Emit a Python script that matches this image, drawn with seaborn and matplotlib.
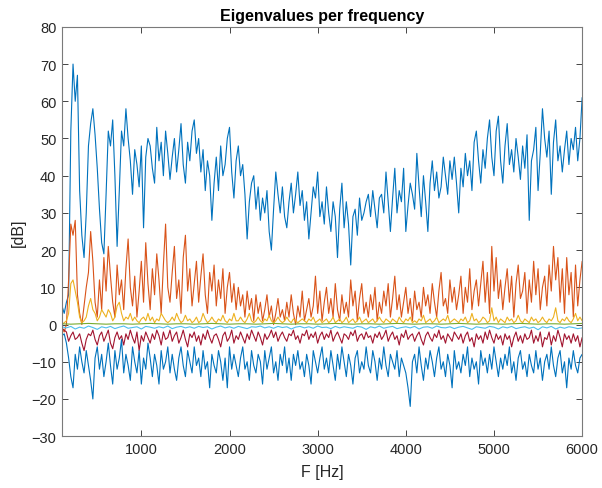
import numpy as np
import pandas as pd
import seaborn as sns
import matplotlib
matplotlib.use("Agg")
import matplotlib.pyplot as plt

# ---------------- data ----------------
freq25 = np.arange(100, 6001, 25)    # 237 bins
freq50 = np.arange(100, 6001, 50)    # 119 bins
freq100 = np.arange(100, 6001, 100)  # 60 bins

eig1 = [
    5, 3, 6, 8, 52, 70, 60, 67, 36, 24,
    18, 30, 48, 54, 58, 51, 42, 31, 22, 19,
    35, 52, 48, 55, 40, 21, 36, 52, 48, 58,
    50, 44, 35, 47, 43, 37, 48, 26, 45, 50,
    48, 42, 38, 53, 44, 49, 40, 52, 46, 39,
    45, 50, 41, 47, 54, 43, 38, 49, 44, 52,
    55, 46, 50, 41, 47, 36, 44, 40, 28, 38,
    45, 36, 48, 40, 43, 50, 53, 41, 34, 44,
    48, 40, 43, 35, 23, 33, 38, 40, 31, 37,
    28, 34, 30, 36, 25, 20, 31, 41, 35, 30,
    37, 29, 26, 33, 38, 30, 35, 41, 32, 36,
    28, 33, 23, 30, 37, 34, 41, 29, 33, 27,
    37, 30, 25, 33, 29, 18, 31, 38, 26, 33,
    27, 16, 29, 31, 24, 34, 28, 30, 33, 35,
    29, 36, 31, 26, 34, 35, 30, 41, 33, 25,
    34, 42, 30, 36, 33, 42, 25, 32, 38, 35,
    31, 46, 37, 29, 40, 33, 25, 38, 44, 36,
    41, 34, 37, 45, 40, 35, 44, 39, 45, 38,
    30, 42, 37, 46, 40, 44, 36, 49, 52, 44,
    38, 47, 42, 50, 55, 45, 40, 52, 56, 44,
    38, 48, 54, 43, 47, 41, 50, 45, 39, 48,
    42, 51, 28, 44, 47, 53, 36, 46, 58, 50,
    45, 52, 35, 49, 55, 44, 48, 41, 47, 52,
    43, 50, 47, 53, 44, 50, 61,
]

eig2 = [
    -1, -2, 0, 12, 27, 24, 28, 8, 3, 0,
    5, 10, 14, 25, 17, 6, 2, 12, 4, 18,
    9, 21, 13, 6, 2, 16, 8, 12, 4, 15,
    23, 10, 5, 13, 2, 9, 17, 6, 22, 11,
    4, 15, 8, 19, 12, 3, 16, 27, 10, 6,
    14, 21, 7, 12, 3, 18, 24, 9, 15, 5,
    11, 17, 6, 13, 19, 8, 3, 14, 9, 16,
    5, 12, 7, 15, 3, 10, 14, 6, 11, 4,
    10, 5, 8, 2, 9, 4, 7, 1, 8, 3,
    6, 1, 4, 8, 2, 5, 0, 3, 7, 2,
    4, 1, 6, 2, 8, 3, 0, 5, 2, 9,
    1, 4, 7, 2, 5, 13, 3, 9, 1, 6,
    10, 3, 7, 2, 11, 4, 1, 8, 3, 6,
    2, 12, 5, 9, 1, 7, 11, 3, 6, 2,
    8, 4, 10, 1, 6, 3, 9, 5, 11, 2,
    7, 13, 4, 8, 2, 6, 10, 3, 7, 1,
    9, 4, 6, 2, 10, 5, 8, 3, 11, 6,
    2, 9, 14, 5, 7, 3, 12, 6, 10, 4,
    8, 13, 3, 10, 6, 15, 4, 9, 12, 5,
    11, 17, 6, 14, 3, 21, 9, 18, 7, 12,
    4, 10, 15, 6, 13, 2, 11, 16, 7, 9,
    14, 3, 12, 6, 17, 8, 15, 4, 10, 13,
    5, 16, 9, 21, 12, 18, 6, 15, 3, 18,
    8, 14, 2, 16, 5, 12, 17,
]

eig3 = [
    0, 0.5, 1, 3, 11, 12, 9, 6, 2, 0.5,
    1, 2, 5, 7, 4, 3, 1, 2, 4, 3,
    2, 4, 3, 1, 2, 5, 6, 3, 1, 2,
    1.5, 3, 1, 2, 1, 0.5, 1.5, 2, 1, 3,
    1, 2, 0.5, 1.5, 1, 3, 2, 1, 0.5, 1,
    2, 1, 3, 1.5, 0.5, 1, 2.5, 1, 1.5, 0.5,
    1, 2, 0.5, 1, 3, 1.5, 0.5, 1, 2, 1,
    0.5, 1.5, 1, 2.5, 1, 0.5, 1.5, 1, 3, 1,
    1, 2, 1, 0.5, 1.5, 3, 1, 0.5, 1, 2,
    1, 0.5, 1.5, 1, 2.5, 1, 0.5, 1, 2, 1,
    0.5, 1, 2, 1, 0.5, 1.5, 1, 0.5, 1, 1.5,
    1, 0.5, 1.5, 1, 2, 0.5, 1, 1.5, 0.5, 1,
    1.5, 0.5, 1, 2, 0.5, 1, 1.5, 0.5, 1, 2,
    0.5, 1, 1.5, 0.5, 1, 2, 0.5, 1, 1.5, 0.5,
    1, 1.5, 0.5, 1, 2, 1, 0.5, 1.5, 1, 0.5,
    1.5, 1, 0.5, 2, 1, 0.5, 1.5, 1, 2, 0.5,
    1, 0.5, 1.5, 1, 2.5, 0.5, 1, 1.5, 0.5, 1,
    2, 0.5, 1, 1.5, 1, 2.5, 0.5, 1, 1.5, 1,
    0.5, 1.5, 1, 2, 0.5, 1, 3, 1, 1.5, 0.5,
    1, 2, 1.5, 0.5, 1, 4.5, 1, 2, 0.5, 1.5,
    1, 0.5, 2, 1, 1.5, 0.5, 1, 2.5, 1, 0.5,
    1.5, 1, 0.5, 2, 1, 1.5, 0.5, 1, 2, 1,
    0.5, 1.5, 1, 2, 4.5, 1, 0.5, 1.5, 1, 2,
    1, 0.5, 1.5, 3, 1, 2, 1,
]

eig4 = [
    0.2, 0.1, 0.2, 0.3, 0.2, 0.1, 0.2, 0.2, 0.1, 0.2,
    0.3, 0.2, 0.1, 0.2, 0.2, 0.1, 0.2, 0.3, 0.2, 0.1,
    0.2, 0.2, 0.1, 0.2, 0.3, 0.2, 0.1, 0.2, 0.2, 0.1,
    0.2, 0.3, 0.2, 0.1, 0.2, 0.2, 0.1, 0.2, 0.3, 0.2,
    0.1, 0.2, 0.2, 0.1, 0.2, 0.3, 0.2, 0.1, 0.2, 0.2,
    0.1, 0.2, 0.3, 0.2, 0.1, 0.2, 0.2, 0.1, 0.2, 0.3,
]

eig5 = [
    -0.6, -0.9, -0.5, -1.2, -0.7, -1.0, -0.4, -0.8, -1.3, -0.6,
    -0.9, -0.5, -1.1, -0.7, -0.4, -1.0, -0.8, -0.6, -1.2, -0.5,
    -0.7, -1.0, -0.6, -0.9, -0.4, -1.1, -0.7, -0.5, -0.9, -0.6,
    -1.0, -0.5, -0.8, -0.6, -1.2, -0.7, -0.4, -0.9, -0.6, -1.0,
    -0.5, -0.8, -1.1, -0.6, -0.7, -0.4, -0.9, -0.6, -1.0, -0.5,
    -0.8, -0.6, -1.2, -0.7, -0.5, -0.9, -0.6, -1.0, -0.4, -0.8,
    -0.7, -1.1, -0.5, -0.9, -0.6, -0.8, -1.0, -0.5, -0.7, -1.3,
    -0.6, -0.9, -0.4, -1.0, -0.7, -0.5, -1.1, -0.8, -0.6, -0.9,
    -0.5, -1.2, -0.7, -0.6, -1.0, -0.4, -0.8, -0.9, -0.6, -1.1,
    -0.7, -0.5, -0.9, -1.3, -0.6, -0.8, -1.0, -0.5, -0.7, -1.2,
    -0.6, -0.9, -0.5, -1.1, -0.8, -0.6, -1.0, -0.7, -1.4, -0.6,
    -0.9, -0.5, -1.2, -0.7, -1.0, -0.6, -0.8, -1.1, -0.9,
]

eig6 = [
    -1, -1.5, -2, -4.5, -3, -2, -4, -3.5, -2.5, -5,
    -7, -4, -2.5, -3, -1.5, -4, -5.5, -3, -2, -4.5,
    -3, -1.5, -5, -6.5, -3.5, -2, -4, -3, -5.5, -2.5,
    -4, -1.5, -3.5, -5, -2, -7, -3, -4.5, -2, -3.5,
    -5, -2.5, -4, -1.5, -3, -5.5, -2, -4, -3.5, -1.5,
    -4.5, -3, -2, -5, -3.5, -1.5, -4, -6, -2.5, -3.5,
    -2, -4.5, -3, -5.5, -2.5, -4, -1.5, -3.5, -5, -3,
    -2.5, -4, -6, -3, -2, -4.5, -3.5, -1.5, -5, -3,
    -4, -2, -3.5, -5, -2.5, -4, -1.5, -3, -4.5, -2,
    -3.5, -5.5, -2.5, -4, -3, -1.5, -3.5, -2, -4.5, -3,
    -2, -3.5, -4.5, -2.5, -3, -1.5, -4, -3, -5, -2.5,
    -3, -1.5, -4, -2.5, -3.5, -2, -5, -3, -2, -4,
    -2.5, -3.5, -1.5, -4.5, -3, -2, -3.5, -5, -2.5, -3,
    -4, -2, -3, -1.5, -4.5, -3, -2.5, -4, -2, -3.5,
    -3, -5, -2.5, -3.5, -2, -4, -3, -1.5, -4.5, -3,
    -2, -4, -3, -5.5, -2.5, -3.5, -1.5, -4, -3, -2.5,
    -4.5, -3, -2, -4, -5.5, -3, -2, -3.5, -4.5, -2.5,
    -3.5, -1.5, -4, -3, -5, -2.5, -3.5, -4.5, -2, -3,
    -4, -2.5, -5, -3, -2, -4.5, -3.5, -6, -2.5, -4,
    -3, -5, -2, -4, -1.5, -3.5, -5, -2.5, -4, -3,
    -5.5, -2.5, -4, -3, -6, -3.5, -2, -4.5, -3, -5,
    -2.5, -4, -3.5, -1.5, -5, -3, -4.5, -2, -6, -3.5,
    -4, -2, -5.5, -3, -4.5, -1.5, -3.5, -6, -2.5, -4,
    -3, -5, -2.5, -4.5, -3, -6, -3.5,
]

eig7 = [
    -3, -2.5, -5, -9, -14, -17, -8, -12, -6, -10,
    -13, -7, -11, -15, -20, -9, -6, -12, -8, -14,
    -10, -5, -11, -16, -7, -12, -9, -4, -13, -8,
    -11, -15, -6, -10, -13, -7, -16, -9, -12, -5,
    -9, -14, -8, -11, -16, -7, -12, -10, -6, -13,
    -8, -12, -15, -9, -6, -11, -14, -7, -10, -13,
    -6, -11, -9, -14, -7, -12, -10, -17, -8, -11,
    -13, -7, -10, -15, -9, -17, -6, -12, -8, -11,
    -14, -9, -6, -12, -10, -15, -7, -11, -13, -8,
    -10, -16, -7, -12, -9, -6, -13, -10, -15, -8,
    -11, -6, -13, -9, -15, -8, -11, -7, -12, -10,
    -14, -8, -11, -16, -7, -10, -13, -9, -6, -12,
    -9, -13, -7, -11, -15, -8, -12, -6, -10, -14,
    -8, -11, -16, -9, -7, -13, -10, -12, -6, -11,
    -13, -7, -10, -15, -9, -12, -6, -11, -14, -8,
    -10, -12, -7, -14, -9, -11, -13, -17, -22, -10,
    -8, -13, -6, -11, -15, -9, -12, -7, -10, -14,
    -9, -6, -12, -10, -14, -8, -11, -17, -7, -12,
    -10, -13, -8, -11, -6, -14, -9, -12, -10, -16,
    -7, -11, -9, -13, -8, -12, -6, -10, -14, -9,
    -12, -8, -11, -6, -13, -10, -15, -9, -7, -12,
    -10, -14, -8, -11, -13, -7, -12, -9, -15, -10,
    -8, -12, -6, -11, -14, -9, -7, -13, -10, -17,
    -9, -12, -7, -11, -13, -9, -8,
]

series = [
    (freq25, eig1, "#0072BD"),
    (freq25, eig2, "#D95319"),
    (freq25, eig3, "#EDB120"),
    (freq100, eig4, "#77AC30"),
    (freq50, eig5, "#4DBEEE"),
    (freq25, eig6, "#A2142F"),
    (freq25, eig7, "#0072BD"),
]

# ---------------- plot ----------------
sns.set_style("white")
plt.rcParams["font.family"] = ["Liberation Sans", "DejaVu Sans"]

fig = plt.figure(figsize=(6.02, 4.89), dpi=100)
ax = fig.add_axes([0.103, 0.106, 0.864, 0.837])

for f, v, c in series:
    df = pd.DataFrame({"F": f, "dB": v})
    sns.lineplot(data=df, x="F", y="dB", ax=ax, color=c, linewidth=0.8,
                 estimator=None, sort=False)

ax.set_xlim(100, 6000)
ax.set_ylim(-30, 80)
ax.set_xticks([1000, 2000, 3000, 4000, 5000, 6000])
ax.set_yticks(list(range(-30, 81, 10)))

axcol = "#262626"
for s in ax.spines.values():
    s.set_visible(True)
    s.set_color("#7a7a7a")
    s.set_linewidth(0.8)
ax.tick_params(direction="in", length=4, width=0.6, color="#262626",
               labelsize=10.5, labelcolor=axcol, top=True, right=True,
               bottom=True, left=True, pad=4)

ax.set_xlabel("F [Hz]", fontsize=11.5, color=axcol, labelpad=6)
ax.set_ylabel("[dB]", fontsize=11.5, color=axcol, labelpad=4)
ax.set_title("Eigenvalues per frequency", fontsize=11.5, fontweight="bold",
             color="black", pad=5)

fig.savefig("out.png", dpi=100)
